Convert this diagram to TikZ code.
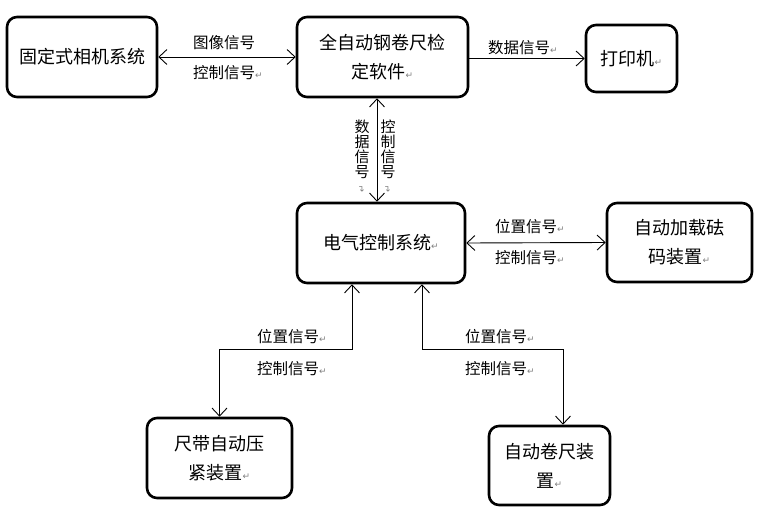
\documentclass[tikz,border=0pt]{standalone}
\usepackage{fontspec}
\setmainfont{Noto Sans CJK SC}
\newfontfamily\djv{DejaVu Sans}
\usetikzlibrary{arrows.meta}
\newcommand{\retmk}{{\djv\color{gray}\fontsize{9}{9}\selectfont ↵}}
\newcommand{\retmkv}{{\djv\color{gray}\fontsize{9}{9}\selectfont\rotatebox{90}{↵}}}
\tikzset{
  box/.style={draw, line width=2.6pt, rounded corners=10pt, inner sep=0pt, align=center,
    font=\fontsize{18}{29}\selectfont},
  lbl/.style={inner sep=0pt, anchor=west, font=\fontsize{15.5}{15.5}\selectfont},
  vlbl/.style={inner sep=0pt, align=center, font=\fontsize{15}{15}\selectfont},
  conn/.style={line width=0.9pt, arrows={-Straight Barb[length=8pt,width=15pt,line width=0.9pt]}},
  biconn/.style={line width=0.9pt, arrows={Straight Barb[length=8pt,width=15pt,line width=0.9pt]-Straight Barb[length=8pt,width=15pt,line width=0.9pt]}}
}
\begin{document}
\begin{tikzpicture}[x=1pt,y=-1pt]
\useasboundingbox (0,0) rectangle (765,513);
% boxes
\node[box, minimum width=150pt, minimum height=80pt] (b1) at (82,57) {固定式相机系统};
\node[box, minimum width=171pt, minimum height=80pt] (b2) at (382.5,57) {全自动钢卷尺检\\定软件\retmk};
\node[box, minimum width=91pt, minimum height=67pt] (b3) at (631.5,58.5) {打印机\retmk};
\node[box, minimum width=168pt, minimum height=80pt] (b4) at (381,243) {电气控制系统\retmk};
\node[box, minimum width=145pt, minimum height=79pt] (b5) at (679.5,242.5) {自动加载砝\\码装置\retmk};
\node[box, minimum width=145pt, minimum height=80pt] (b6) at (219.5,458) {尺带自动压\\紧装置\retmk};
\node[box, minimum width=121pt, minimum height=79pt] (b7) at (549.5,465.5) {自动卷尺装\\置\retmk};
% junctions
\coordinate (j1) at (219.5,349);
\coordinate (j2) at (563,349);
% connectors
\draw[biconn] (b1.east) -- (b2.west);
\draw[conn] (b2.east |- b3.west) -- (b3.west);
\draw[biconn] ([xshift=-5.5pt]b2.south) -- ([xshift=-4pt]b4.north);
\draw[biconn] (b4.east) -- (b5.west);
\draw[biconn] ([xshift=-29pt]b4.south) |- (j1) -- (b6.north);
\draw[biconn] ([xshift=41pt]b4.south) |- (j2) -- (j2 |- b7.north);
% labels
\node[lbl] (t1) at (193,43) {图像信号};
\node[lbl] (t2) at (193,73) {控制信号\retmk};
\node[lbl] (t3) at (488,48) {数据信号\retmk};
\node[vlbl] (t4) at (362,156) {数\\据\\信\\号\\\retmkv};
\node[vlbl] (t5) at (388,156) {控\\制\\信\\号\\\retmkv};
\node[lbl] (t6) at (495,227) {位置信号\retmk};
\node[lbl] (t7) at (495,258) {控制信号\retmk};
\node[lbl] (t8) at (257,337) {位置信号\retmk};
\node[lbl] (t9) at (257,369) {控制信号\retmk};
\node[lbl] (t10) at (465,337) {位置信号\retmk};
\node[lbl] (t11) at (465,369) {控制信号\retmk};
\end{tikzpicture}
\end{document}
